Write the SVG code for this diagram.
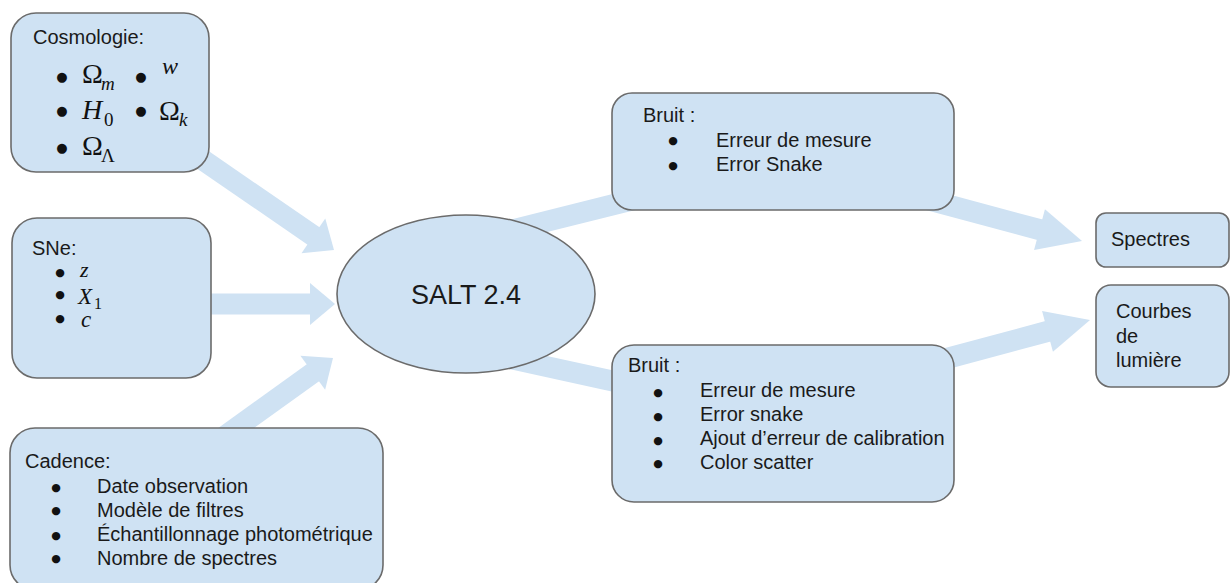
<svg xmlns="http://www.w3.org/2000/svg" xmlns:xlink="http://www.w3.org/1999/xlink" width="1230" height="583" viewBox="0 0 1230 583">
<style>
.box{fill:#cfe2f3;stroke:#6b6b6b;stroke-width:1.6}
.t{font-family:"Liberation Sans",Arial,sans-serif;font-size:20px;fill:#1a1a1a}
.b{font-family:"DejaVu Sans",sans-serif;font-size:11px;fill:#111;text-anchor:middle}
.bm{font-family:"DejaVu Sans",sans-serif;font-size:13px;fill:#111;text-anchor:middle}
.m{font-family:"Liberation Serif","Times New Roman",serif;fill:#111}
.i{font-style:italic}
.shaft{stroke:#cfe2f3;stroke-width:21;fill:none}
.head{fill:#cfe2f3}
</style>
<defs>
<polygon id="hs" class="head" points="0,0 -25,-21 -25,21"/>
<polygon id="hl" class="head" points="0,0 -44,-21 -44,21"/>
</defs>
<rect width="1230" height="583" fill="#ffffff"/>
<g id="connectors">
<line class="shaft" x1="190" y1="151" x2="315" y2="237"/>
<use xlink:href="#hs" transform="translate(334,250) rotate(34.5)"/>
<line class="shaft" x1="200" y1="304" x2="312" y2="304"/>
<use xlink:href="#hs" transform="translate(335,304)"/>
<line class="shaft" x1="207" y1="449" x2="314" y2="372"/>
<use xlink:href="#hs" transform="translate(333,358) rotate(-36)"/>
<line class="shaft" x1="480" y1="238" x2="640" y2="198"/>
<line class="shaft" x1="480" y1="352" x2="640" y2="387"/>
<line class="shaft" x1="920" y1="197.5" x2="1041" y2="230"/>
<use xlink:href="#hl" transform="translate(1082,241) rotate(15)"/>
<line class="shaft" x1="928" y1="363.5" x2="1049" y2="331"/>
<use xlink:href="#hl" transform="translate(1090,320) rotate(-15)"/>
</g>
<g id="cosmologie">
<rect class="box" x="11" y="13" width="198" height="159" rx="25" ry="25"/>
<text class="t" x="33" y="44">Cosmologie:</text>
<text class="bm" x="62" y="81">●</text>
<text class="bm" x="141" y="81">●</text>
<text class="bm" x="62" y="115">●</text>
<text class="bm" x="141" y="115">●</text>
<text class="bm" x="62" y="152">●</text>
<text class="m" x="82" y="83" font-size="28">Ω</text>
<text class="m i" x="101" y="90" font-size="19">m</text>
<text class="m i" x="162" y="74" font-size="24">w</text>
<text class="m i" x="82" y="119" font-size="28">H</text>
<text class="m" x="104" y="126" font-size="19">0</text>
<text class="m" x="159" y="120" font-size="28">Ω</text>
<text class="m i" x="179" y="126" font-size="19">k</text>
<text class="m" x="82" y="155" font-size="28">Ω</text>
<text class="m" x="101" y="162" font-size="19">Λ</text>
</g>
<g id="sne">
<rect class="box" x="12" y="218" width="199" height="160" rx="25" ry="25"/>
<text class="t" x="32" y="255">SNe:</text>
<text class="b" x="60" y="276">●</text>
<text class="b" x="60" y="298">●</text>
<text class="b" x="60" y="322">●</text>
<text class="m i" x="80" y="277" font-size="22">z</text>
<text class="m i" x="78" y="304" font-size="23">X</text>
<text class="m" x="94" y="309" font-size="16">1</text>
<text class="m i" x="81" y="327" font-size="23">c</text>
</g>
<g id="cadence">
<rect class="box" x="10" y="428" width="373" height="162" rx="25" ry="25"/>
<text class="t" x="25" y="468">Cadence:</text>
<text class="b" x="56" y="491">●</text>
<text class="b" x="56" y="514">●</text>
<text class="b" x="56" y="539">●</text>
<text class="b" x="56" y="562">●</text>
<text class="t" x="97" y="493">Date observation</text>
<text class="t" x="97" y="517">Modèle de filtres</text>
<text class="t" x="97" y="541">Échantillonnage photométrique</text>
<text class="t" x="97" y="565">Nombre de spectres</text>
</g>
<g id="salt">
<ellipse class="box" cx="466" cy="294" rx="129" ry="79"/>
<text class="t" x="466" y="304" text-anchor="middle" style="font-size:27px">SALT 2.4</text>
</g>
<g id="bruit1">
<rect class="box" x="612" y="93" width="342" height="117" rx="20" ry="20"/>
<text class="t" x="643" y="122">Bruit :</text>
<text class="b" x="673" y="144">●</text>
<text class="b" x="673" y="169">●</text>
<text class="t" x="716" y="147">Erreur de mesure</text>
<text class="t" x="716" y="171">Error Snake</text>
</g>
<g id="bruit2">
<rect class="box" x="612" y="345" width="342" height="157" rx="22" ry="22"/>
<text class="t" x="628" y="372">Bruit :</text>
<text class="b" x="658" y="396">●</text>
<text class="b" x="658" y="420">●</text>
<text class="b" x="658" y="444">●</text>
<text class="b" x="658" y="467">●</text>
<text class="t" x="700" y="397">Erreur de mesure</text>
<text class="t" x="700" y="421">Error snake</text>
<text class="t" x="700" y="445">Ajout d’erreur de calibration</text>
<text class="t" x="700" y="469">Color scatter</text>
</g>
<g id="spectres">
<rect class="box" x="1096" y="213" width="133" height="54" rx="10" ry="10"/>
<text class="t" x="1111" y="246">Spectres</text>
</g>
<g id="courbes">
<rect class="box" x="1096" y="285" width="133" height="102" rx="15" ry="15"/>
<text class="t" x="1116" y="318">Courbes</text>
<text class="t" x="1116" y="343">de</text>
<text class="t" x="1116" y="367">lumière</text>
</g>
</svg>
